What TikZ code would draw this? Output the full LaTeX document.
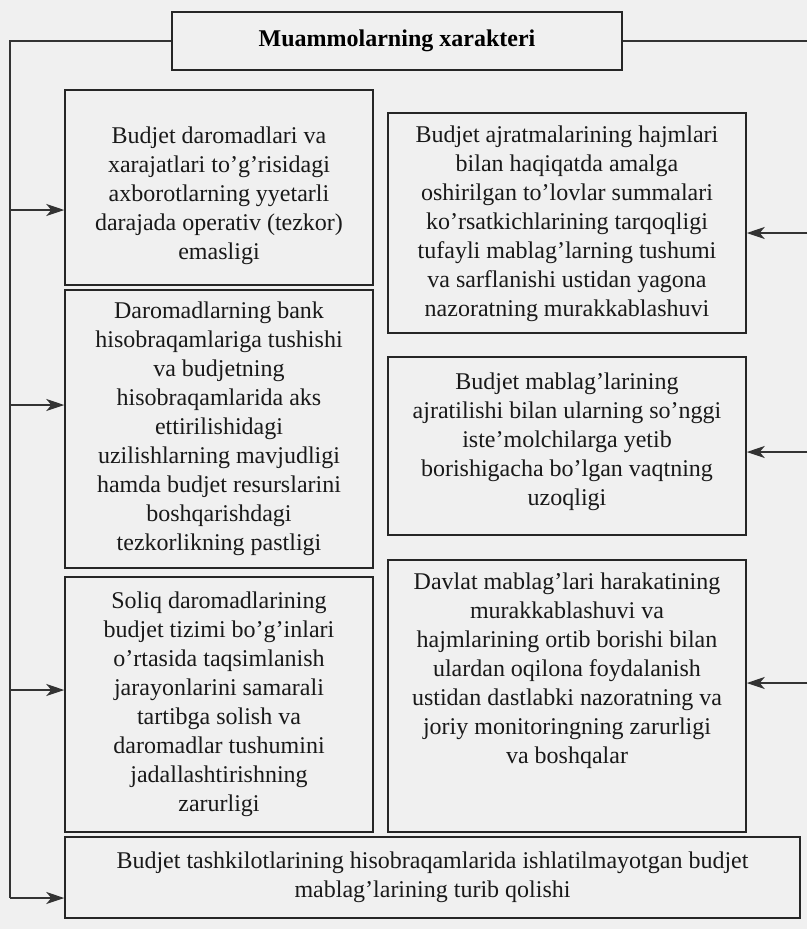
\documentclass[tikz,border=0pt]{standalone}
\usepackage{fontspec}
\setmainfont{Liberation Serif}
\usetikzlibrary{arrows.meta}
\begin{document}
\begin{tikzpicture}[x=1pt,y=-1pt,
  box/.style={draw=black!85, line width=1.5pt, rectangle, inner sep=0pt},
  txt/.style={align=center, font=\fontsize{24}{29}\selectfont, text=black!90, inner sep=0pt},
  conn/.style={draw=black!80, line width=1.4pt},
  arr/.style={conn, -{Stealth[length=18pt,width=12pt,inset=5pt]}}]
\fill[black!6] (0,0) rectangle (807,929);
\useasboundingbox (0,0) rectangle (807,929);
% title
\node[box, minimum width=450pt, minimum height=58pt, font=\fontsize{24}{29}\selectfont\bfseries] (title) at (397,41) {Muammolarning xarakteri};
% left boxes
\node[box, minimum width=308pt, minimum height=195pt] (l1) at (219,187.5) {};
\node[txt] (l1t) at (219,196) {Budjet daromadlari va\\xarajatlari to’g’risidagi\\axborotlarning yyetarli\\darajada operativ (tezkor)\\emasligi};
\node[box, minimum width=308pt, minimum height=278pt] (l2) at (219,429) {};
\node[txt] (l2t) at (219,429) {Daromadlarning bank\\hisobraqamlariga tushishi\\va budjetning\\hisobraqamlarida aks\\ettirilishidagi\\uzilishlarning mavjudligi\\hamda budjet resurslarini\\boshqarishdagi\\tezkorlikning pastligi};
\node[box, minimum width=308pt, minimum height=255pt] (l3) at (219,704.5) {};
\node[txt] (l3t) at (219,704) {Soliq daromadlarining\\budjet tizimi bo’g’inlari\\o’rtasida taqsimlanish\\jarayonlarini samarali\\tartibga solish va\\daromadlar tushumini\\jadallashtirishning\\zarurligi};
% right boxes
\node[box, minimum width=358pt, minimum height=220pt] (r1) at (567,223) {};
\node[txt] (r1t) at (567,224) {Budjet ajratmalarining hajmlari\\bilan haqiqatda amalga\\oshirilgan to’lovlar summalari\\ko’rsatkichlarining tarqoqligi\\tufayli mablag’larning tushumi\\va sarflanishi ustidan yagona\\nazoratning murakkablashuvi};
\node[box, minimum width=358pt, minimum height=178pt] (r2) at (567,446) {};
\node[txt] (r2t) at (567,442) {Budjet mablag’larining\\ajratilishi bilan ularning so’nggi\\iste’molchilarga yetib\\borishigacha bo’lgan vaqtning\\uzoqligi};
\node[box, minimum width=358pt, minimum height=272pt] (r3) at (567,696) {};
\node[txt] (r3t) at (567,671) {Davlat mablag’lari harakatining\\murakkablashuvi va\\hajmlarining ortib borishi bilan\\ulardan oqilona foydalanish\\ustidan dastlabki nazoratning va\\joriy monitoringning zarurligi\\va boshqalar};
% bottom box
\node[box, minimum width=735pt, minimum height=81pt] (b) at (432.5,877.5) {};
\node[txt] (bt) at (432.5,877) {Budjet tashkilotlarining hisobraqamlarida ishlatilmayotgan budjet\\mablag’larining turib qolishi};
% connectors
\coordinate (lc) at (10,41);
\coordinate (rc) at (807,41);
\coordinate (a1) at (10,210);
\coordinate (a2) at (10,405);
\coordinate (a3) at (10,690);
\coordinate (a4) at (10,898);
\coordinate (b1) at (807,233);
\coordinate (b2) at (807,452);
\coordinate (b3) at (807,683);
\draw[conn] (title.west) -- (lc) -- (a4);
\draw[conn] (title.east) -- (rc);
\draw[arr] (a1) -- (a1 -| l1.west);
\draw[arr] (a2) -- (a2 -| l2.west);
\draw[arr] (a3) -- (a3 -| l3.west);
\draw[arr] (a4) -- (a4 -| b.west);
\draw[arr] (b1) -- (b1 -| r1.east);
\draw[arr] (b2) -- (b2 -| r2.east);
\draw[arr] (b3) -- (b3 -| r3.east);
\end{tikzpicture}
\end{document}
